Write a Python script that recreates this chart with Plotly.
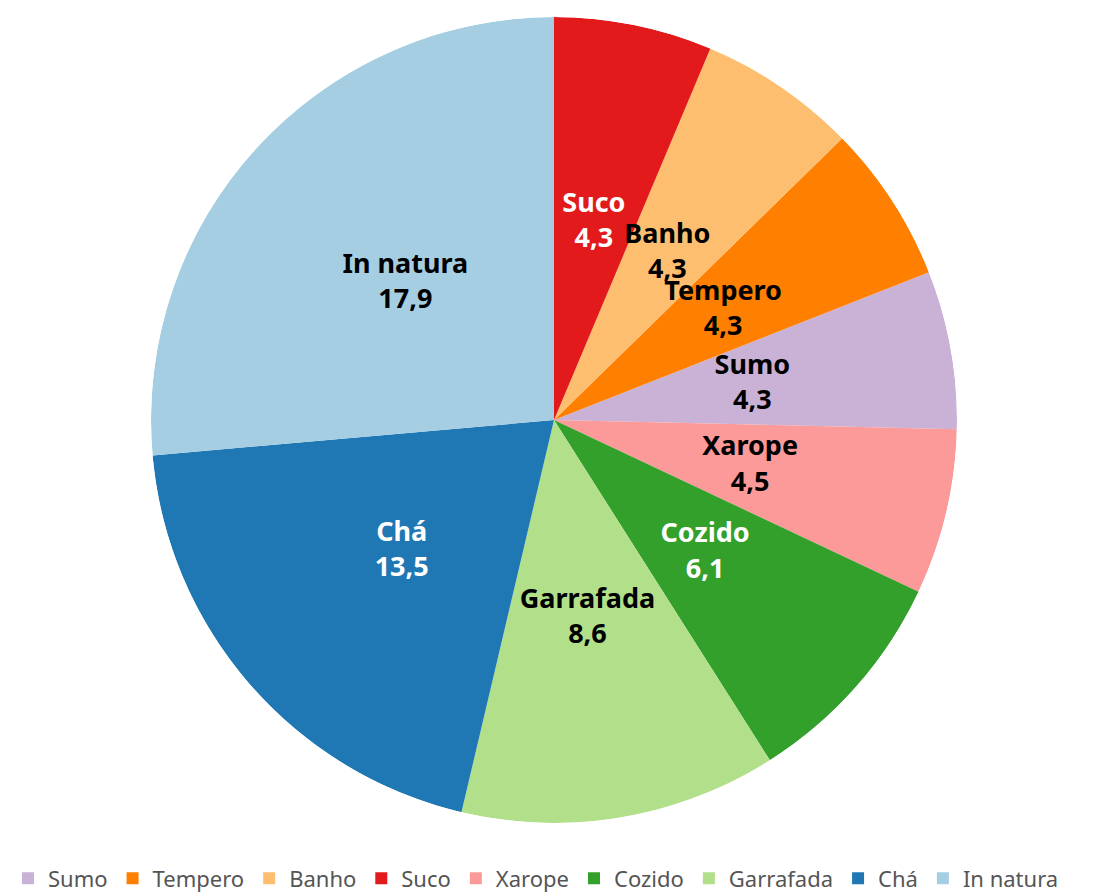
import plotly.graph_objects as go

# slices, clockwise from 12 o'clock
categorias = ["Suco", "Banho", "Tempero", "Sumo", "Xarope", "Cozido", "Garrafada", "Chá", "In natura"]
valores = [4.3, 4.3, 4.3, 4.3, 4.5, 6.1, 8.6, 13.5, 17.9]
cores = ["#e31a1c", "#fdbf6f", "#ff7f00", "#cab2d6", "#fb9a99", "#33a02c", "#b2df8a", "#1f78b4", "#a6cee3"]
cor_texto = ["white", "black", "black", "black", "black", "white", "black", "white", "black"]
ordem_legenda = ["Sumo", "Tempero", "Banho", "Suco", "Xarope", "Cozido", "Garrafada", "Chá", "In natura"]

total = sum(valores)
larguras = [v / total * 360 for v in valores]
centros = []
acc = 0.0
for w in larguras:
    centros.append(acc + w / 2)
    acc += w

fig = go.Figure()

for nome in ordem_legenda:
    i = categorias.index(nome)
    fig.add_trace(go.Barpolar(
        r=[1], theta=[centros[i]], width=[larguras[i]], name=nome,
        marker=dict(color=cores[i], line=dict(width=0)),
        hoverinfo="name",
    ))

textos = [c + "<br>" + ("%.1f" % v).replace(".", ",") for c, v in zip(categorias, valores)]
fig.add_trace(go.Scatterpolar(
    r=[0.5] * len(categorias), theta=centros, mode="text", text=textos,
    textfont=dict(family="Noto Sans, sans-serif", size=27, color=cor_texto, weight="bold"),
    showlegend=False, hoverinfo="skip",
))

fig.update_layout(
    width=1117, height=896,
    margin=dict(l=0, r=25, t=9, b=81),
    paper_bgcolor="white",
    polar=dict(
        bgcolor="rgba(0,0,0,0)",
        bargap=0,
        radialaxis=dict(range=[0, 1], visible=False),
        angularaxis=dict(direction="clockwise", rotation=90, visible=False),
    ),
    legend=dict(
        orientation="h", x=0, xanchor="left", yref="container", y=0.005, yanchor="bottom",
        font=dict(family="Noto Sans, sans-serif", size=22, color="#555555"),
        itemclick=False, itemdoubleclick=False,
    ),
    showlegend=True,
)

fig.write_html("out.html")
